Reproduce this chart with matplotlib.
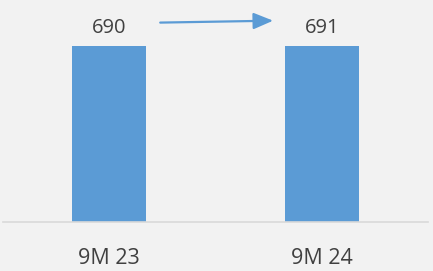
import matplotlib
matplotlib.use("Agg")
import matplotlib.pyplot as plt
from matplotlib.transforms import offset_copy

categories = ["9M 23", "9M 24"]
values = [690, 691]

bg = "#f2f2f2"
bar_color = "#5b9bd5"
text_color = "#404040"

plt.rcParams["font.family"] = ["Open Sans", "DejaVu Sans"]

fig = plt.figure(figsize=(4.33, 2.71), dpi=100, facecolor=bg)
ax = fig.add_axes([3 / 433, 49 / 271, 425 / 433, 222 / 271], facecolor=bg)

x = range(len(categories))
ax.bar(x, values, width=0.347, color=bar_color, zorder=2)

for xi, v in zip(x, values):
    ax.annotate(str(v), xy=(xi, v), xytext=(0, 12.6), textcoords="offset points",
                ha="center", va="center", fontsize=14.5, color=text_color)

# arrow between the two value labels
start = offset_copy(ax.transData, fig=fig, x=36.7, y=16.8, units="points")
end = offset_copy(ax.transData, fig=fig, x=-35, y=18, units="points")
ax.annotate("", xy=(1, values[1]), xycoords=end,
            xytext=(0, values[0]), textcoords=start,
            arrowprops=dict(arrowstyle="-|>,head_length=0.6,head_width=0.25",
                            mutation_scale=20, color=bar_color, lw=1.6,
                            shrinkA=0, shrinkB=0))

ax.set_xlim(-0.5, 1.5)
ax.set_ylim(0, 870)
ax.set_xticks(list(x))
ax.set_xticklabels(categories, fontsize=15.5, color=text_color)
ax.tick_params(axis="x", length=0, pad=19)
ax.set_yticks([])
for side in ["top", "left", "right"]:
    ax.spines[side].set_visible(False)
ax.spines["bottom"].set_color("#d9d9d9")
ax.spines["bottom"].set_linewidth(1.2)

fig.savefig("out.png", dpi=100, facecolor=bg)
